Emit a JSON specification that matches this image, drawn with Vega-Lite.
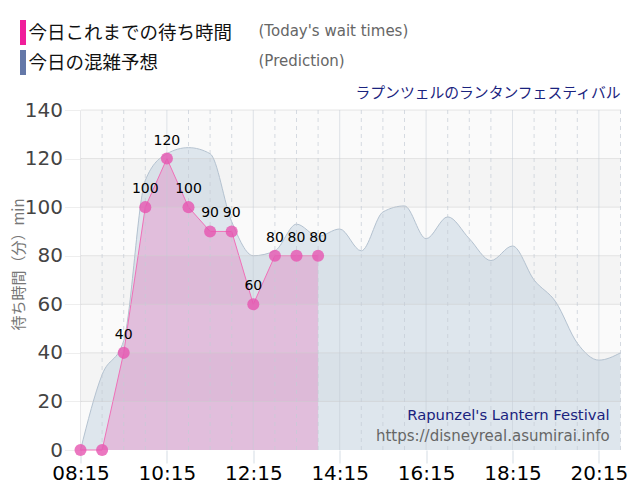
{"$schema":"https://vega.github.io/schema/vega-lite/v6.json","autosize":{"type":"none"},"width":540,"height":340,"padding":{"left":80.5,"top":110,"right":19.5,"bottom":50},"background":"white",
"title":{"text":"ラプンツェルのランタンフェスティバル","anchor":"end","frame":"group","orient":"top","offset":9,"dy":90,"font":"Noto Sans CJK JP","fontSize":14.8,"fontWeight":"normal","color":"#1a237e"},
"datasets":{
"pred":[{"t":"2024-01-01T08:15:00","v":0},{"t":"2024-01-01T08:45:00","v":31},{"t":"2024-01-01T09:15:00","v":45},{"t":"2024-01-01T09:45:00","v":111},{"t":"2024-01-01T10:15:00","v":122},{"t":"2024-01-01T10:45:00","v":124.5},{"t":"2024-01-01T11:15:00","v":122},{"t":"2024-01-01T11:45:00","v":94},{"t":"2024-01-01T12:15:00","v":80},{"t":"2024-01-01T12:45:00","v":82},{"t":"2024-01-01T13:15:00","v":93},{"t":"2024-01-01T13:45:00","v":88},{"t":"2024-01-01T14:15:00","v":91},{"t":"2024-01-01T14:45:00","v":82},{"t":"2024-01-01T15:15:00","v":98},{"t":"2024-01-01T15:45:00","v":100.5},{"t":"2024-01-01T16:15:00","v":87},{"t":"2024-01-01T16:45:00","v":96},{"t":"2024-01-01T17:15:00","v":87},{"t":"2024-01-01T17:45:00","v":78},{"t":"2024-01-01T18:15:00","v":84},{"t":"2024-01-01T18:45:00","v":70},{"t":"2024-01-01T19:15:00","v":61},{"t":"2024-01-01T19:45:00","v":44},{"t":"2024-01-01T20:15:00","v":37},{"t":"2024-01-01T20:45:00","v":40}],
"actual":[{"t":"2024-01-01T08:15:00","v":0},{"t":"2024-01-01T08:45:00","v":0},{"t":"2024-01-01T09:15:00","v":40},{"t":"2024-01-01T09:45:00","v":100},{"t":"2024-01-01T10:15:00","v":120},{"t":"2024-01-01T10:45:00","v":100},{"t":"2024-01-01T11:15:00","v":90},{"t":"2024-01-01T11:45:00","v":90},{"t":"2024-01-01T12:15:00","v":60},{"t":"2024-01-01T12:45:00","v":80},{"t":"2024-01-01T13:15:00","v":80},{"t":"2024-01-01T13:45:00","v":80}],
"bands":[{"a":0,"b":20,"k":"l"},{"a":20,"b":40,"k":"d"},{"a":40,"b":60,"k":"l"},{"a":60,"b":80,"k":"d"},{"a":80,"b":100,"k":"l"},{"a":100,"b":120,"k":"d"},{"a":120,"b":140,"k":"l"}],
"hgrid":[{"v":20},{"v":40},{"v":60},{"v":80},{"v":100},{"v":120},{"v":140}],
"vminor":[{"t":"2024-01-01T08:45:00"},{"t":"2024-01-01T09:15:00"},{"t":"2024-01-01T09:45:00"},{"t":"2024-01-01T10:45:00"},{"t":"2024-01-01T11:15:00"},{"t":"2024-01-01T11:45:00"},{"t":"2024-01-01T12:45:00"},{"t":"2024-01-01T13:15:00"},{"t":"2024-01-01T13:45:00"},{"t":"2024-01-01T14:45:00"},{"t":"2024-01-01T15:15:00"},{"t":"2024-01-01T15:45:00"},{"t":"2024-01-01T16:45:00"},{"t":"2024-01-01T17:15:00"},{"t":"2024-01-01T17:45:00"},{"t":"2024-01-01T18:45:00"},{"t":"2024-01-01T19:15:00"},{"t":"2024-01-01T19:45:00"},{"t":"2024-01-01T20:45:00"}],
"vmajor":[{"t":"2024-01-01T10:15:00"},{"t":"2024-01-01T12:15:00"},{"t":"2024-01-01T14:15:00"},{"t":"2024-01-01T16:15:00"},{"t":"2024-01-01T18:15:00"},{"t":"2024-01-01T20:15:00"}],
"noteA":[{"t":"2024-01-01T20:30:00","v":14.2,"s":"Rapunzel's Lantern Festival"}],
"noteB":[{"t":"2024-01-01T20:30:00","v":5.8,"s":"https://disneyreal.asumirai.info"}],
"legendRows":[{"t":"2024-01-01T08:15:00","v":0,"en":"(Today's wait times)","series":"今日これまでの待ち時間"},{"t":"2024-01-01T08:15:00","v":0,"en":"(Prediction)","series":"今日の混雑予想"}]
},
"encoding":{
"x":{"field":"t","type":"temporal","title":null,"scale":{"nice":false,"domain":[{"year":2024,"month":1,"date":1,"hours":8,"minutes":15},{"year":2024,"month":1,"date":1,"hours":20,"minutes":45}]},
"axis":{"values":[{"year":2024,"month":1,"date":1,"hours":8,"minutes":15},{"year":2024,"month":1,"date":1,"hours":10,"minutes":15},{"year":2024,"month":1,"date":1,"hours":12,"minutes":15},{"year":2024,"month":1,"date":1,"hours":14,"minutes":15},{"year":2024,"month":1,"date":1,"hours":16,"minutes":15},{"year":2024,"month":1,"date":1,"hours":18,"minutes":15},{"year":2024,"month":1,"date":1,"hours":20,"minutes":15}],"format":"%H:%M","grid":false,"domain":false,"tickSize":13,"tickColor":"#d5dde5","labelFont":"DejaVu Sans","labelFontSize":20,"labelColor":"#000","labelPadding":0,"labelOverlap":false,"labelFlush":false}},
"y":{"field":"v","type":"quantitative","title":"待ち時間（分）min","scale":{"domain":[0,140],"nice":false},
"axis":{"values":[0,20,40,60,80,100,120,140],"grid":false,"domainColor":"#aaaab0","tickSize":16,"tickColor":"#eeeeee","labelFont":"DejaVu Sans","labelFontSize":20,"labelColor":"#444","labelPadding":2,"titleFont":"Noto Sans CJK JP, DejaVu Sans","titleFontSize":15,"titleFontWeight":"normal","titleColor":"#777","titleX":-54,"titleY":154}}
},
"layer":[
{"data":{"name":"bands"},"mark":{"type":"rect"},"encoding":{"x":null,"y":{"field":"a","type":"quantitative"},"y2":{"field":"b"},"fill":{"field":"k","type":"nominal","legend":null,"scale":{"domain":["l","d"],"range":["#fafafa","#f4f4f4"]}}}},
{"data":{"name":"pred"},"mark":{"type":"area","interpolate":"monotone","color":"#7ba0be","opacity":0.22}},
{"data":{"name":"pred"},"mark":{"type":"line","interpolate":"monotone","color":"#b4c2d0","strokeWidth":1}},
{"data":{"name":"actual"},"mark":{"type":"area","interpolate":"linear","color":"#f01e9a","opacity":0.2}},
{"data":{"name":"actual"},"mark":{"type":"line","color":"#f070b8","strokeWidth":1}},
{"data":{"name":"hgrid"},"mark":{"type":"rule","color":"#cccccc","strokeDash":[1,1],"strokeWidth":1},"encoding":{"x":null}},
{"data":{"name":"vminor"},"mark":{"type":"rule","color":"#c4ccd6","opacity":0.7,"strokeDash":[4,4],"strokeWidth":1},"encoding":{"y":null}},
{"data":{"name":"vmajor"},"mark":{"type":"rule","color":"#c4ccd6","opacity":0.5,"strokeWidth":1},"encoding":{"y":null}},
{"data":{"name":"actual"},"mark":{"type":"point","filled":true,"size":145,"color":"#e655b0","opacity":0.8}},
{"data":{"name":"actual"},"transform":[{"filter":"datum.v > 0"}],"mark":{"type":"text","dy":-18,"font":"DejaVu Sans","fontSize":14,"color":"#000"},"encoding":{"text":{"field":"v","type":"quantitative"}}},
{"data":{"name":"noteA"},"mark":{"type":"text","align":"right","font":"DejaVu Sans","fontSize":14.8,"color":"#1a237e"},"encoding":{"text":{"field":"s"}}},
{"data":{"name":"noteB"},"mark":{"type":"text","align":"right","font":"DejaVu Sans","fontSize":15,"color":"#666666"},"encoding":{"text":{"field":"s"}}},
{"data":{"name":"legendRows"},"mark":{"type":"point","filled":true,"size":0,"opacity":0},"encoding":{"color":{"field":"series","type":"nominal","scale":{"domain":["今日これまでの待ち時間","今日の混雑予想"],"range":["#f01e9a","#6478a8"]},"legend":{"orient":"none","legendX":-70,"legendY":-90,"title":null,"symbolType":"M-0.24,-1H0.24V1H-0.24Z","symbolSize":625,"symbolOpacity":1,"symbolStrokeWidth":0,"rowPadding":5,"labelFont":"Noto Sans CJK JP","labelFontSize":18.5,"labelColor":"#111","labelOffset":-7,"labelLimit":300}},"shape":{"field":"en","type":"nominal","scale":{"domain":["(Today's wait times)","(Prediction)"],"range":["circle","circle"]},"legend":{"orient":"none","legendX":159,"legendY":-87,"title":null,"symbolOpacity":0,"symbolSize":1,"rowPadding":14.5,"labelFont":"DejaVu Sans","labelFontSize":15,"labelColor":"#666","labelLimit":300,"symbolType":"circle"}}}}
],
"config":{"view":{"stroke":null},"style":{"cell":{"stroke":null}}}
}
